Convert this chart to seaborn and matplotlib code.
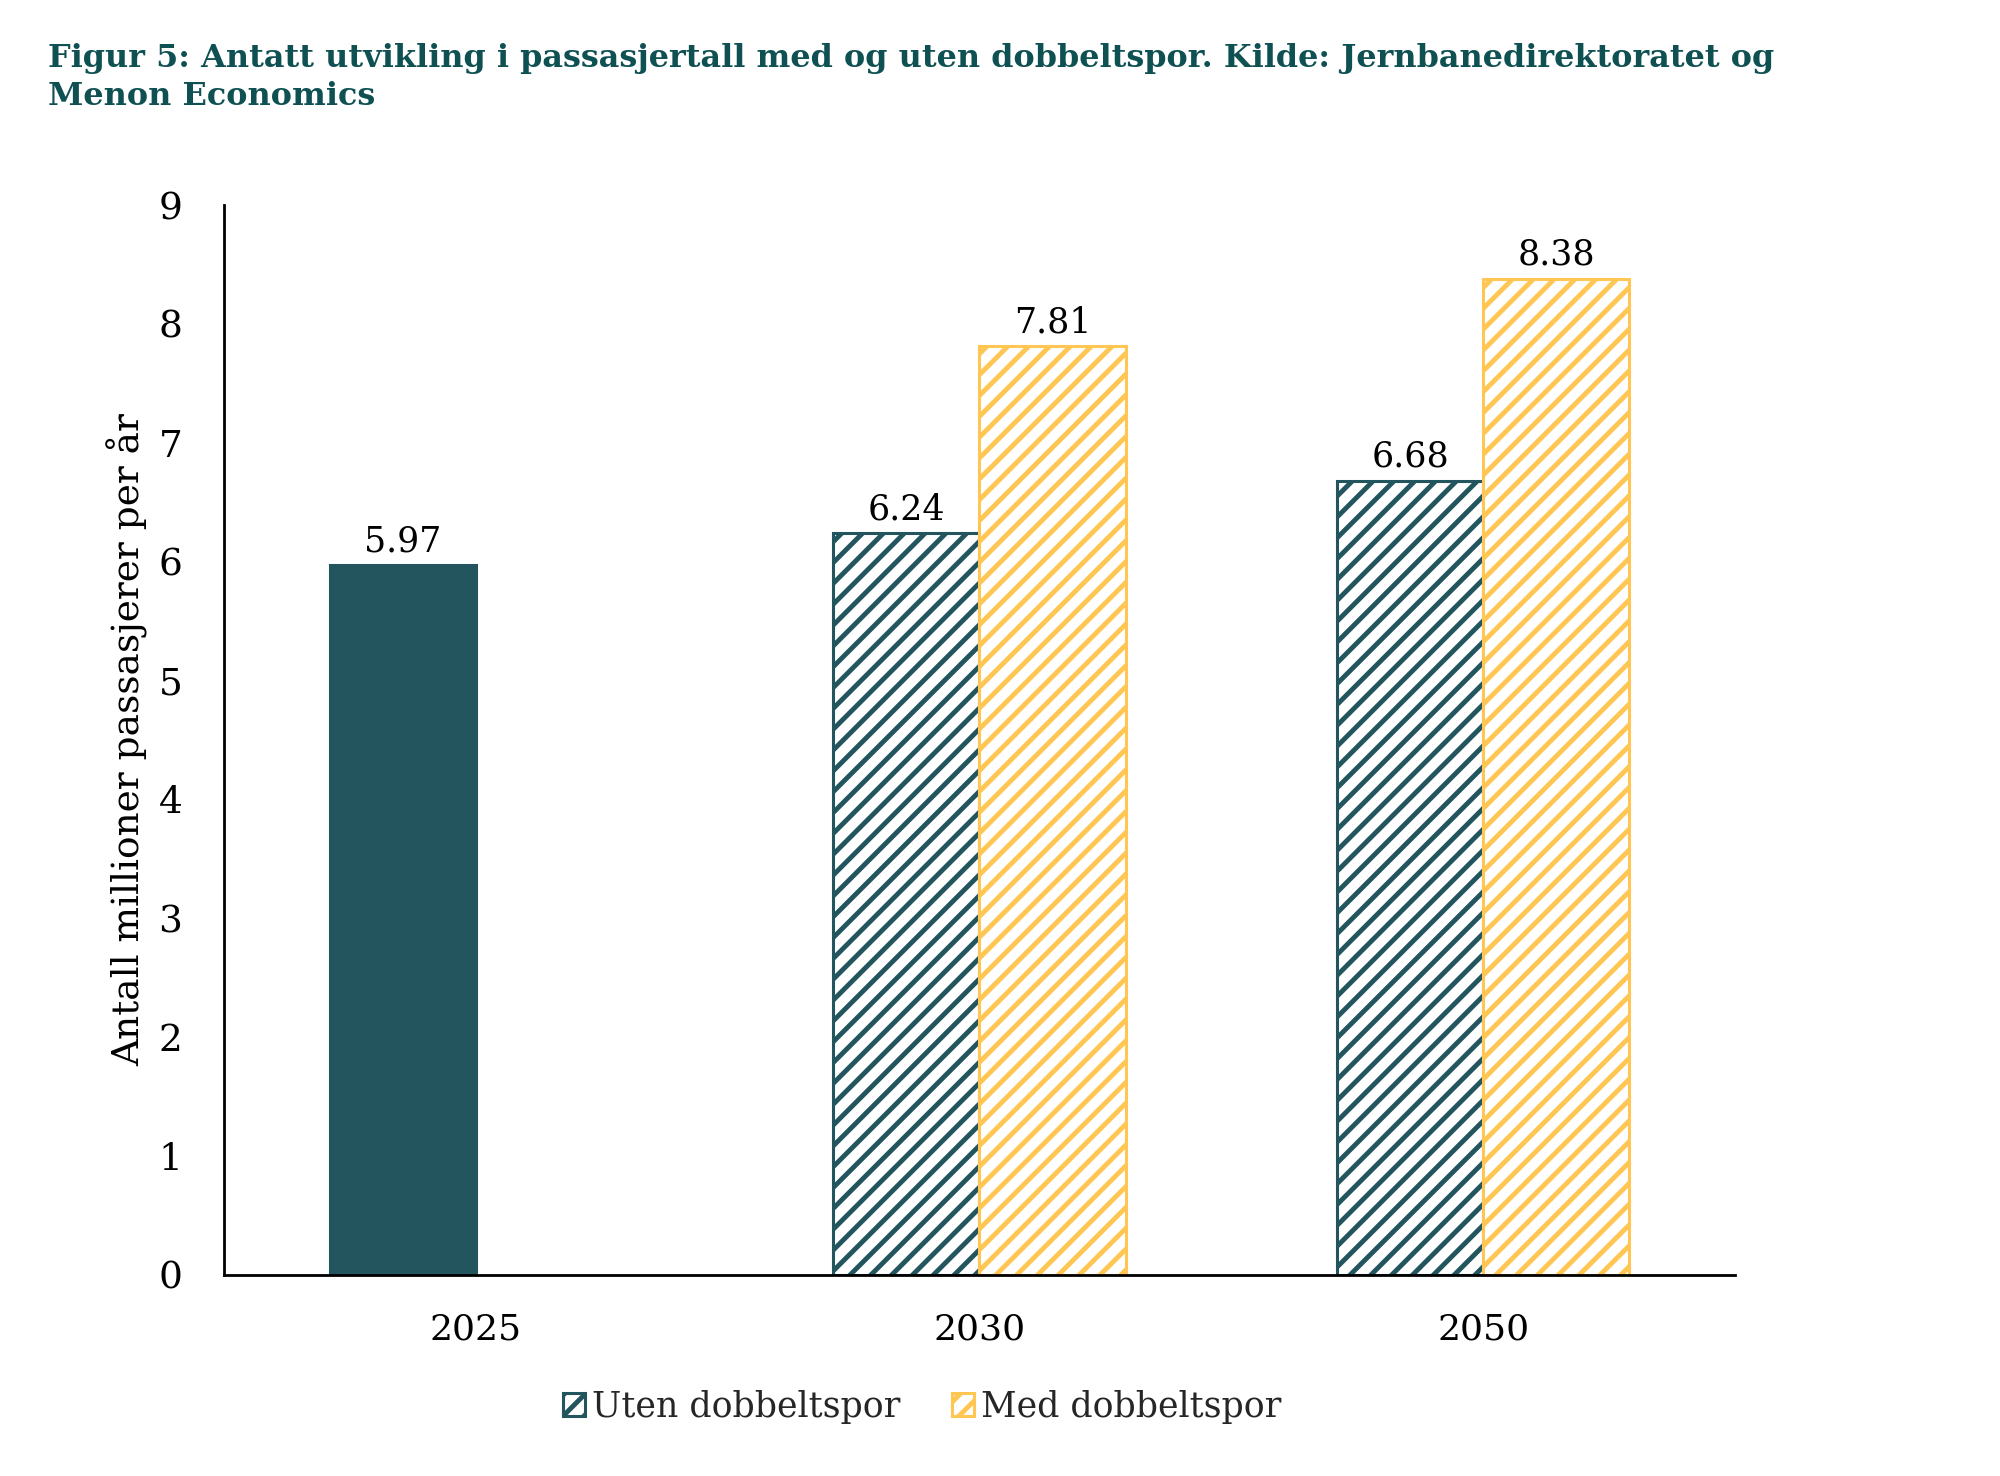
import numpy as np
import pandas as pd
import matplotlib
matplotlib.use("Agg")
import matplotlib.pyplot as plt
from matplotlib.patches import Patch
import seaborn as sns

# ---- data ----
years = ["2025", "2030", "2050"]
series_names = ["Uten dobbeltspor", "Med dobbeltspor"]
uten_values = [5.97, 6.24, 6.68]
med_years = ["2030", "2050"]
med_values = [7.81, 8.38]
yticks = [0, 1, 2, 3, 4, 5, 6, 7, 8, 9]

title = ("Figur 5: Antatt utvikling i passasjertall med og uten dobbeltspor. Kilde: Jernbanedirektoratet og\n"
         "Menon Economics")
ylabel = "Antall millioner passasjerer per år"

TEAL = "#22555E"
YELLOW = "#FFC653"
TITLE_C = "#0F5152"

# render resolution (hatch spacing scales with dpi); sizes given in
# "100-dpi points" and converted with S so the pixel sizes stay fixed
DPI = 125
S = 100.0 / DPI


def p(v):
    return v * S


df = pd.DataFrame({
    "year": years + med_years,
    "value": uten_values + med_values,
    "series": [series_names[0]] * len(years) + [series_names[1]] * len(med_years),
})

sns.set_theme(style="white")
plt.rcParams["font.family"] = ["DejaVu Serif"]
plt.rcParams["hatch.linewidth"] = p(3.5)

fig = plt.figure(figsize=(2000 / DPI, 1476 / DPI), dpi=DPI)
ax = fig.add_axes([0.112, 0.1362, 0.7555, 0.7249])

sns.barplot(data=df, x="year", y="value", hue="series", order=years,
            hue_order=series_names, width=0.58, ax=ax, legend=False,
            palette=[TEAL, YELLOW], saturation=1, errorbar=None)

colors = [TEAL, YELLOW]
for ci, cont in enumerate(ax.containers):
    for bar in cont:
        bar.set_facecolor("white")
        bar.set_edgecolor(colors[ci])
        bar.set_linewidth(p(2.2))
        bar.set_hatch("//")
# the 2025 (baseline) bar is solid
first = ax.containers[0][0]
first.set_hatch(None)
first.set_facecolor(TEAL)
first.set_edgecolor(TEAL)

for cont in ax.containers:
    ax.bar_label(cont, fmt="%.2f", padding=p(5), fontsize=p(25), color="black")

ax.set_xlim(-0.5, 2.5)
ax.set_ylim(0, 9)
ax.set_yticks(yticks)
ax.set_xlabel("")
ax.set_ylabel(ylabel, fontsize=p(27), color="black")
ax.yaxis.set_label_coords(-0.05, 0.5)
ax.tick_params(axis="y", length=0, pad=p(30), labelsize=p(27), colors="black")
ax.tick_params(axis="x", length=0, pad=p(27), labelsize=p(26), colors="black")
for s in ["top", "right"]:
    ax.spines[s].set_visible(False)
for s in ["left", "bottom"]:
    ax.spines[s].set_color("black")
    ax.spines[s].set_linewidth(p(2.0))
ax.grid(False)

handles = [Patch(facecolor="white", edgecolor=c, hatch="//", linewidth=p(2.2)) for c in colors]
fig.legend(handles, series_names, loc="center", bbox_to_anchor=(0.461, 0.047),
           ncol=2, frameon=False, fontsize=p(25), handlelength=0.63, handleheight=0.63,
           handletextpad=0.2, columnspacing=1.5)

fig.text(0.024, 0.971, title, fontsize=p(23), fontweight="bold", color=TITLE_C,
         ha="left", va="top", linespacing=1.3)

fig.savefig("out.png", dpi=DPI, facecolor="white")
